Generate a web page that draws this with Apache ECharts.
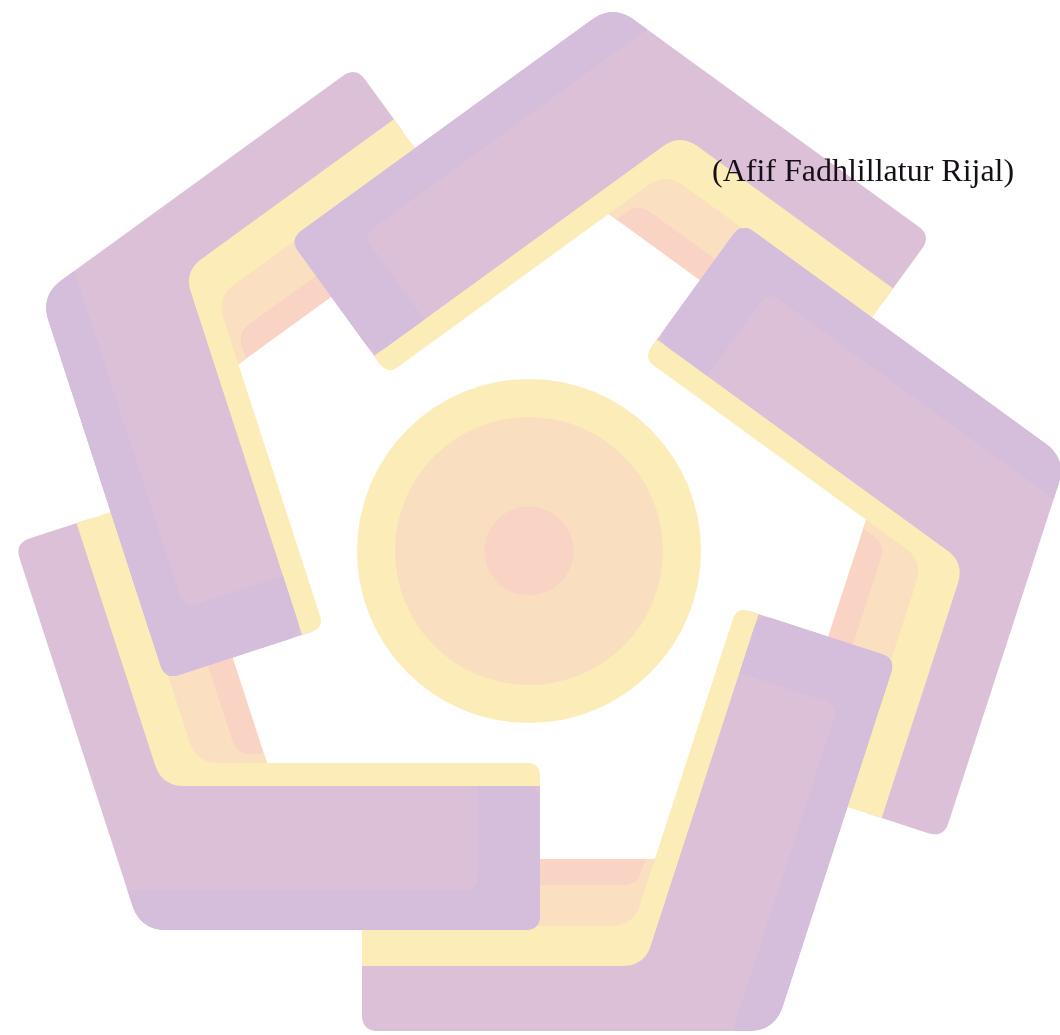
<!DOCTYPE html>
<html>
<head>
<meta charset="utf-8">
<script src="https://cdn.jsdelivr.net/npm/echarts@6/dist/echarts.min.js"></script>
<style>
html,body{margin:0;padding:0;background:#ffffff;}
#chart{width:1060px;height:1035px;}
</style>
</head>
<body>
<div id="chart"></div>
<script>
// ---- values ----
const logoCenter = [527, 544];                 // centre of the pentagon of arms
const ringCenter = [529, 551];                 // centre of the circle
const armCornerAngles = [-90, -18, 54, 126, 198]; // direction of each arm's corner (deg)
const outerLegEnds = [146, 151, 165, 159, 142];   // where each arm's outer leg stops
const innerLegEnds = [13, 15, 5, 13, 17];         // where each arm's end block stops
const outerLegPurple = [422, 487];             // distance bands from centre, outer leg
const outerLegYellow = [382, 422];
const outerLegPeach  = [341, 382];
const outerLegPink   = [315, 341];
const innerLegPurple = [242, 386];             // end-block leg
const innerLegYellow = [219, 242];
const innerLegRim    = [346, 386];
const rimCapDepth = 62;
const ringRadii = [172, 134, 44.5];
const captionText = '(Afif Fadhlillatur Rijal)';

// ---- styles ----
const colors = {purple:'#dbc0d8', rim:'#d5bedb', yellow:'#fcecb8', peach:'#fadfc1', pink:'#f9d4c5'};
const ringColors = ['#fcecb8', '#fadec0', '#f9d3c4'];

function armGeometry(phiDeg) {
  const rad = Math.PI / 180;
  const u = a => [Math.cos(a * rad), Math.sin(a * rad)];
  const no = u(phiDeg + 36), to = u(phiDeg + 126);
  const ni = u(phiDeg - 36), ti = u(phiDeg - 126);
  const e = u(phiDeg), f = u(phiDeg + 90);
  const c36 = Math.cos(36 * rad), s36 = Math.sin(36 * rad);
  const O = logoCenter;
  return {
    o: (d, s) => [O[0] + d * no[0] + s * to[0], O[1] + d * no[1] + s * to[1]],
    i: (d, s) => [O[0] + d * ni[0] + s * ti[0], O[1] + d * ni[1] + s * ti[1]],
    x: (dO, dI) => {
      const a = (dO + dI) / (2 * c36), b = (dO - dI) / (2 * s36);
      return [O[0] + a * e[0] + b * f[0], O[1] + a * e[1] + b * f[1]];
    }
  };
}

function roundedPoints(list) {
  const n = list.length, out = [];
  for (let k = 0; k < n; k++) {
    const p = list[k][0], r = list[k][1];
    const pp = list[(k - 1 + n) % n][0], rp = list[(k - 1 + n) % n][1] || 0;
    const pn = list[(k + 1) % n][0], rn = list[(k + 1) % n][1] || 0;
    if (!r) { out.push(p); continue; }
    const lp = Math.hypot(pp[0] - p[0], pp[1] - p[1]);
    const ln = Math.hypot(pn[0] - p[0], pn[1] - p[1]);
    const ra = Math.min(r, lp * r / (r + rp), ln * r / (r + rn));
    const a = [p[0] + (pp[0] - p[0]) * ra / lp, p[1] + (pp[1] - p[1]) * ra / lp];
    const b = [p[0] + (pn[0] - p[0]) * ra / ln, p[1] + (pn[1] - p[1]) * ra / ln];
    const N = 12;
    for (let j = 0; j <= N; j++) {
      const t = j / N, w = 1 - t;
      out.push([w * w * a[0] + 2 * w * t * p[0] + t * t * b[0],
                w * w * a[1] + 2 * w * t * p[1] + t * t * b[1]]);
    }
  }
  return out;
}

function toGroup(shapes, api) {
  return {
    type: 'group',
    children: shapes.map(s => ({
      type: 'polygon',
      shape: {points: roundedPoints(s[1]).map(p => api.coord(p))},
      style: {fill: s[0]}
    }))
  };
}

const CORNER = 26;

function renderArmBase(params, api) {
  const g = armGeometry(api.value(0));
  const So = outerLegEnds[params.dataIndex], Si = innerLegEnds[params.dataIndex];
  const P = outerLegPurple, Y = outerLegYellow, Pe = outerLegPeach, Pk = outerLegPink;
  const IP = innerLegPurple, IY = innerLegYellow;
  const shapes = [
    [colors.purple, [
      [g.o(P[1], So), 16], [g.x(P[1], IP[1]), CORNER], [g.i(IP[1], Si), 15],
      [g.i(IP[0] - 11, Si), 0], [g.x(P[0] - 16, IP[0] - 11), 0], [g.o(P[0] - 16, So), 0]]],
    [colors.pink, [
      [g.o(Pk[1] + 9, So), 0], [g.x(Pk[1] + 9, IY[0] + 10), 0],
      [g.x(Pk[0], IY[0] + 10), 0], [g.o(Pk[0], So), 0]]],
    [colors.peach, [
      [g.o(Pe[1] + 10, So), 0], [g.x(Pe[1] + 10, IY[0] + 10), 0],
      [g.x(Pk[0], IY[0] + 10), 0], [g.x(Pk[0], IY[0] - 9), 0],
      [g.x(Pe[0], IY[0] - 9), 14], [g.o(Pe[0], So), 0]]],
    [colors.yellow, [
      [g.o(Y[1], So), 0], [g.x(Y[1], IY[1]), 22], [g.i(IY[1], Si), 0],
      [g.i(IY[0], Si), 13], [g.x(Y[0], IY[0]), 22], [g.o(Y[0], So), 0]]]
  ];
  return toGroup(shapes, api);
}

function renderArmBlock(params, api) {
  const g = armGeometry(api.value(0));
  const Si = innerLegEnds[params.dataIndex];
  const P = outerLegPurple, IP = innerLegPurple, R = innerLegRim;
  const shapes = [
    [colors.purple, [
      [g.x(P[1], IP[1]), CORNER], [g.i(IP[1], Si), 15], [g.i(IP[0], Si), 15], [g.x(P[0], IP[0]), 0]]],
    [colors.rim, [
      [g.x(P[1], R[1]), CORNER], [g.i(R[1], Si), 15], [g.i(IP[0], Si), 15],
      [g.i(IP[0], Si - rimCapDepth), 0], [g.i(R[0], Si - rimCapDepth), 14], [g.x(P[1], R[0]), 0]]]
  ];
  return toGroup(shapes, api);
}

function renderRing(params, api) {
  const c = api.coord(ringCenter);
  const r = api.size([api.value(0), 0])[0];
  return {type: 'circle', shape: {cx: c[0], cy: c[1], r: r}, style: {fill: ringColors[params.dataIndex]}};
}

const chart = echarts.init(document.getElementById('chart'), null, {renderer: 'canvas'});
chart.setOption({
  animation: false,
  backgroundColor: '#ffffff',
  title: {
    text: captionText, left: 712, top: 157, padding: 0,
    textStyle: {fontFamily: 'Liberation Serif', fontSize: 32, fontWeight: 'normal', color: '#160f16'}
  },
  grid: {left: 0, right: 0, top: 0, bottom: 0},
  xAxis: {type: 'value', min: 0, max: 1060, show: false},
  yAxis: {type: 'value', min: 0, max: 1035, inverse: true, show: false},
  tooltip: {show: false},
  series: [
    {type: 'custom', name: 'arms', coordinateSystem: 'cartesian2d', renderItem: renderArmBase,
     data: armCornerAngles.map((a, k) => [a, k]), z: 2},
    {type: 'custom', name: 'blocks', coordinateSystem: 'cartesian2d', renderItem: renderArmBlock,
     data: armCornerAngles.map((a, k) => [a, k]), z: 3},
    {type: 'custom', name: 'rings', coordinateSystem: 'cartesian2d', renderItem: renderRing,
     data: ringRadii.map((r, k) => [r, k]), z: 4}
  ]
});
</script>
</body>
</html>
